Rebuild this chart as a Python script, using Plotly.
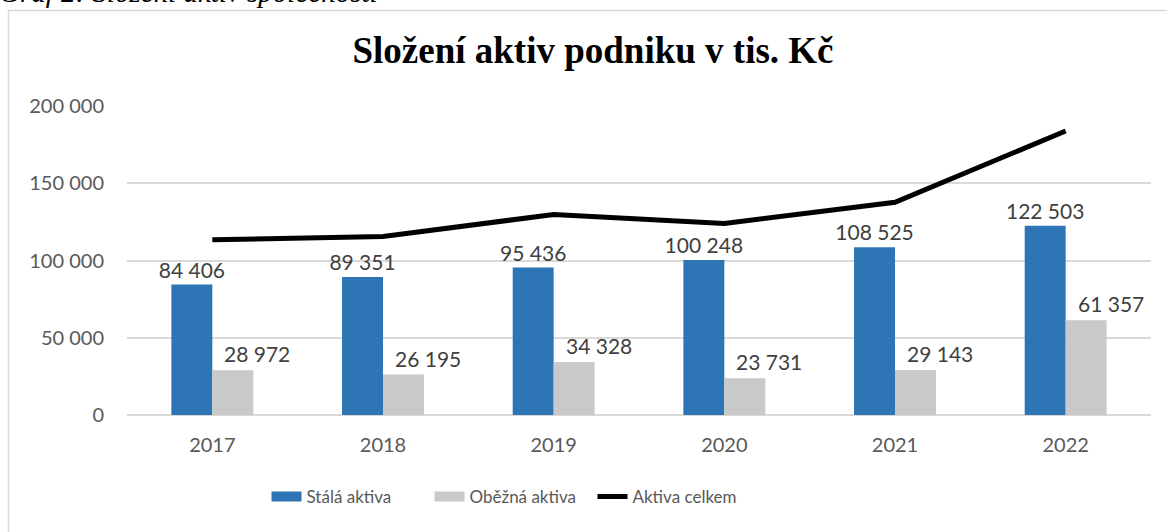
import plotly.graph_objects as go

years = ["2017", "2018", "2019", "2020", "2021", "2022"]
stala = [84406, 89351, 95436, 100248, 108525, 122503]
obezna = [28972, 26195, 34328, 23731, 29143, 61357]
celkem = [113378, 115546, 129764, 123979, 137668, 183860]
y_ticks = [0, 50000, 100000, 150000, 200000]

BLUE = "#2e75b6"
GRAY = "#c9c9c9"

W, H = 1167, 532
L, R, T, B = 127, 16, 106, 117
PW, PH = W - L - R, H - T - B


def px_x(p):
    return (p - L) / PW


def px_y(p):
    return (H - B - p) / PH


label_font = dict(family="Lato, Open Sans, sans-serif", size=21, color="#404040")
tick_font = dict(family="Lato, Open Sans, sans-serif", size=20, color="#595959")

fig = go.Figure()
fig.add_trace(go.Bar(
    name="Stálá aktiva", x=years, y=stala, showlegend=False,
    marker=dict(color=BLUE, line=dict(width=0)),
    texttemplate="%{y:,.0f}", textposition="outside", constraintext="none",
    textfont=label_font, cliponaxis=False,
))
fig.add_trace(go.Bar(
    name="Oběžná aktiva", x=years, y=obezna, showlegend=False,
    marker=dict(color=GRAY, line=dict(width=0)),
))
fig.add_trace(go.Scatter(
    name="Aktiva celkem", x=years, y=celkem, mode="lines", showlegend=False,
    line=dict(color="black", width=5),
))

# legend entries with wide swatches like Excel
for name, col, w in [("Stálá aktiva", BLUE, 13), ("Oběžná aktiva", GRAY, 13),
                     ("Aktiva celkem", "black", 5)]:
    fig.add_trace(go.Scatter(
        name=name, x=[None], y=[None], mode="lines",
        line=dict(color=col, width=w),
    ))

# gray labels sit a bit to the right of their bars, like in Excel
for i, v in enumerate(obezna):
    fig.add_annotation(
        x=i, y=v, xref="x", yref="y", text=f"{v:,}".replace(",", " "),
        showarrow=False, xshift=45, yanchor="bottom", yshift=2,
        font=label_font,
    )

# caption cut off at the top of the page
fig.add_annotation(
    xref="paper", yref="paper", x=px_x(-3), y=px_y(-8.5),
    xanchor="left", yanchor="middle", showarrow=False,
    text="<i>Graf 2: Složení aktiv společnosti</i>",
    font=dict(family="Liberation Serif, serif", size=29, color="black"),
)

# chart frame
fig.add_shape(
    type="rect", xref="paper", yref="paper",
    x0=px_x(8.5), x1=px_x(1190), y0=px_y(560), y1=px_y(10.5),
    line=dict(color="#d9d9d9", width=1.5), fillcolor="rgba(0,0,0,0)",
    layer="below",
)

fig.update_layout(
    width=W, height=H,
    margin=dict(l=L, r=R, t=T, b=B),
    paper_bgcolor="white", plot_bgcolor="white",
    separators=". ",
    barmode="group", bargap=0.52, bargroupgap=0,
    title=dict(
        text="<b>Složení aktiv podniku v tis. Kč</b>",
        font=dict(family="Liberation Serif, serif", size=37, color="black"),
        xref="container", yref="container",
        x=593 / W, y=1 - 50 / H, xanchor="center", yanchor="middle",
    ),
    legend=dict(
        orientation="h", xref="paper", yref="paper",
        x=px_x(511), y=px_y(497), xanchor="center", yanchor="middle",
        font=dict(family="Lato, Open Sans, sans-serif", size=17, color="#595959"),
        itemwidth=30, entrywidthmode="pixels", entrywidth=118,
    ),
    xaxis=dict(
        type="category", range=[-0.5, 5.5], showgrid=False, showline=False, ticks="",
        tickfont=tick_font, ticklabelstandoff=16,
    ),
    yaxis=dict(
        range=[0, 200000], tickvals=y_ticks, tickformat=",d",
        showgrid=True, gridcolor="#d9d9d9", gridwidth=1.5,
        zeroline=True, zerolinecolor="#d9d9d9", zerolinewidth=1.5,
        showline=False, ticks="",
        tickfont=tick_font, ticklabelstandoff=22,
    ),
)

fig.write_html("out.html", config={"displayModeBar": False},
               post_script="document.body.style.margin = '0';")
